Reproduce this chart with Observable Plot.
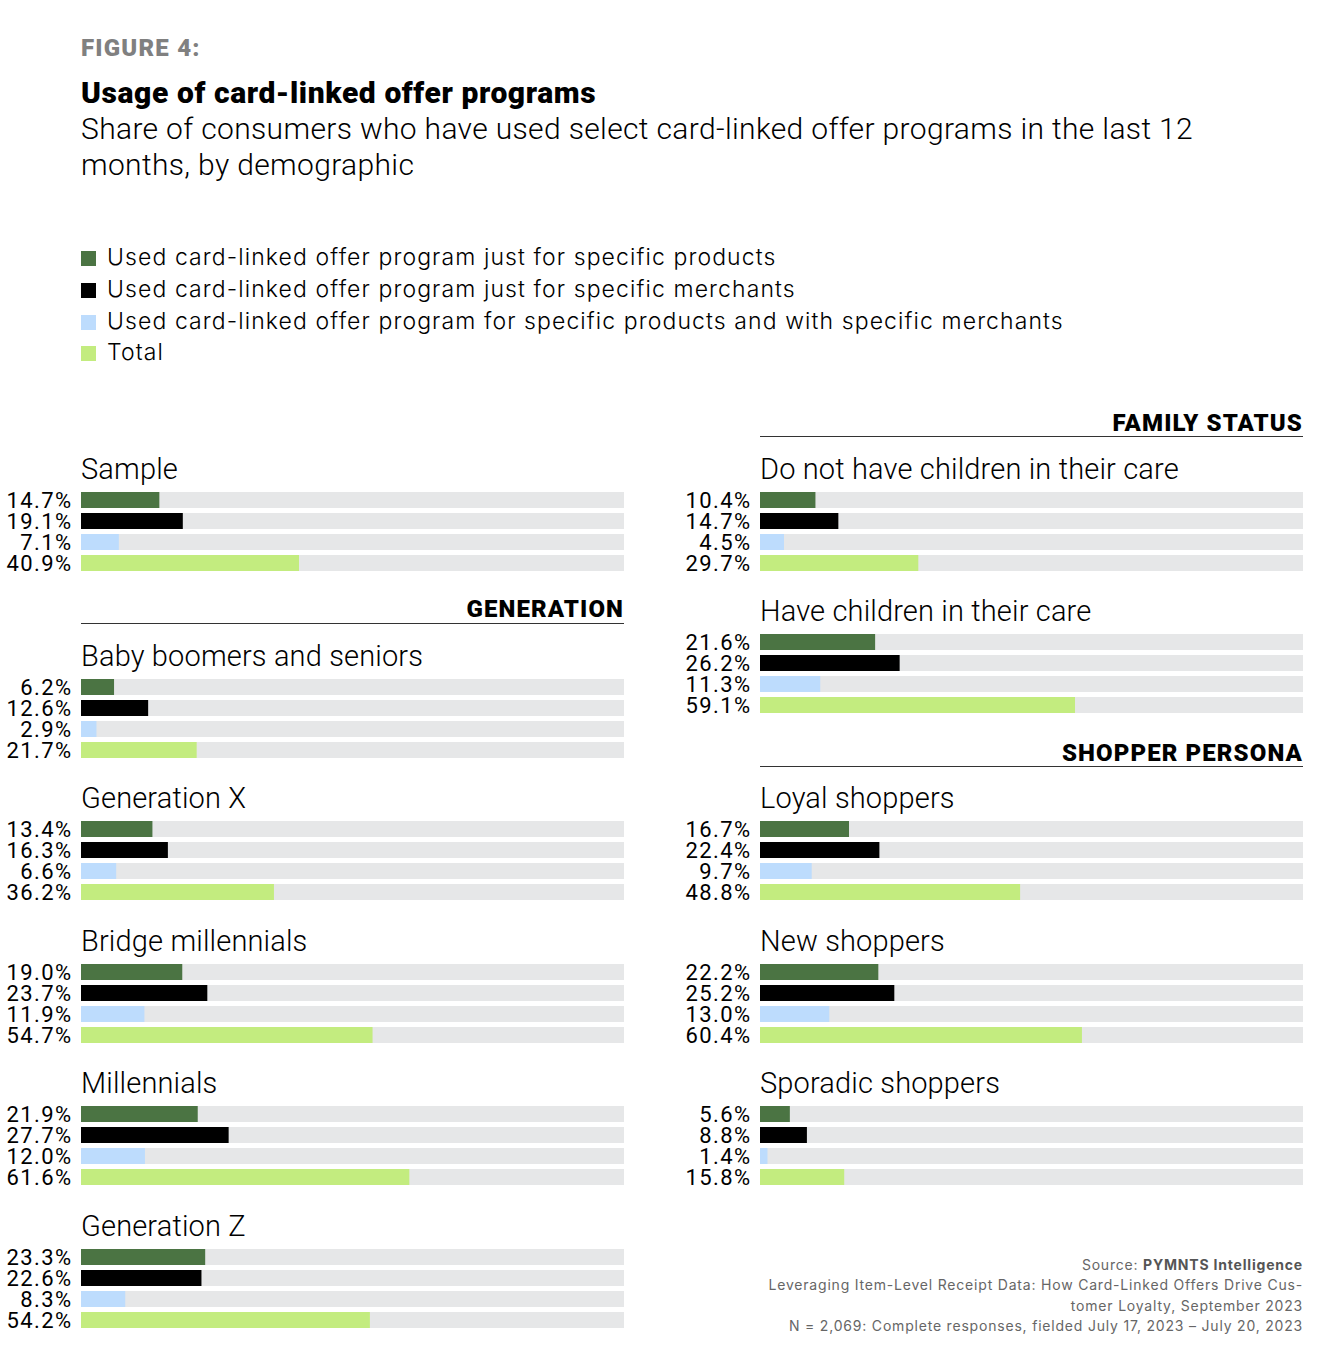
<!DOCTYPE html>
<html><head><meta charset="utf-8">
<script src="https://cdn.jsdelivr.net/npm/d3@7"></script>
<script src="https://cdn.jsdelivr.net/npm/@observablehq/plot@0.6"></script>
<style>
body{margin:0;background:#fff;}
#root{position:relative;width:1328px;height:1362px;overflow:hidden;font-family:Roboto, sans-serif;color:#000;}
.abs{position:absolute;white-space:nowrap;line-height:1;}
.fig{font-weight:900;font-size:24px;color:#808080;letter-spacing:1.2px;}
.title{font-weight:900;font-size:30px;letter-spacing:0.6px;}
.sub{font-weight:300;font-size:30px;letter-spacing:0.35px;}
.leg{font-family:Inter, sans-serif;font-weight:300;font-size:23px;letter-spacing:1.1px;}
.sw{position:absolute;width:15px;height:15px;}
.ptitle{font-weight:300;font-size:29px;letter-spacing:0.15px;}
.head{font-weight:900;font-size:24px;letter-spacing:1.1px;text-align:right;}
.rule{position:absolute;height:0;border-top:1.5px solid #333;}
.foot{font-family:Inter, sans-serif;font-size:14px;color:#666;text-align:right;font-weight:400;letter-spacing:0.8px;}
.foot b{font-weight:700;color:#555;}
</style></head><body><div id="root"></div>
<script>
// ---- data ----
const seriesNames = [
  "Used card-linked offer program just for specific products",
  "Used card-linked offer program just for specific merchants",
  "Used card-linked offer program for specific products and with specific merchants",
  "Total"
];
const seriesColors = ["#4b7443", "#000000", "#bddcfd", "#c3ec7f"];

const sample = [14.7, 19.1, 7.1, 40.9];
const babyBoomers = [6.2, 12.6, 2.9, 21.7];
const generationX = [13.4, 16.3, 6.6, 36.2];
const bridgeMillennials = [19.0, 23.7, 11.9, 54.7];
const millennials = [21.9, 27.7, 12.0, 61.6];
const generationZ = [23.3, 22.6, 8.3, 54.2];
const noChildren = [10.4, 14.7, 4.5, 29.7];
const haveChildren = [21.6, 26.2, 11.3, 59.1];
const loyalShoppers = [16.7, 22.4, 9.7, 48.8];
const newShoppers = [22.2, 25.2, 13.0, 60.4];
const sporadicShoppers = [5.6, 8.8, 1.4, 15.8];

const groupNames = ["Sample", "Baby boomers and seniors", "Generation X", "Bridge millennials",
  "Millennials", "Generation Z", "Do not have children in their care", "Have children in their care",
  "Loyal shoppers", "New shoppers", "Sporadic shoppers"];
const groupValues = [sample, babyBoomers, generationX, bridgeMillennials, millennials, generationZ,
  noChildren, haveChildren, loyalShoppers, newShoppers, sporadicShoppers];

// ---- layout (page positions of panels) ----
const panelCol = [0, 0, 0, 0, 0, 0, 1, 1, 1, 1, 1];
const panelBarTop = [491, 678, 820, 963, 1105, 1248, 491, 633, 820, 963, 1105];
const colLeft = [0, 679];

const root = document.getElementById("root");
function add(cls, text, style) {
  const d = document.createElement("div");
  d.className = cls;
  d.innerHTML = text;
  Object.assign(d.style, style);
  root.appendChild(d);
  return d;
}

add("abs fig", "FIGURE 4:", {left: "81px", top: "36px"});
add("abs title", "Usage of card-linked offer programs", {left: "81px", top: "78px"});
add("abs sub", "Share of consumers who have used select card-linked offer programs in the last 12", {left: "81px", top: "114px"});
add("abs sub", "months, by demographic", {left: "81px", top: "150px"});

const legendY = [258, 290, 322, 353];
seriesNames.forEach((n, i) => {
  add("sw", "", {left: "81px", top: (legendY[i] - 7.5) + "px", background: seriesColors[i]});
  add("abs leg", n, {left: "107px", top: (legendY[i] - 12) + "px"});
});

// section headers
const heads = [["GENERATION", 0, 609, 623], ["FAMILY STATUS", 1, 423, 436], ["SHOPPER PERSONA", 1, 753, 766]];
heads.forEach(([t, c, y, ly]) => {
  const left = c === 0 ? 81 : 760;
  add("abs head", t, {left: left + "px", width: "543px", top: (y - 12) + "px"});
  add("rule", "", {left: left + "px", width: "543px", top: ly + "px"});
});

function panel(vals) {
  const rows = vals.map((v, i) => ({i, v, label: v.toFixed(1) + "%", color: seriesColors[i]}));
  return Plot.plot({
    width: 640, height: 87,
    marginLeft: 81, marginRight: 26, marginTop: 0, marginBottom: 0,
    style: {fontFamily: "Roboto, sans-serif", background: "transparent", overflow: "visible", letterSpacing: "1.4px"},
    x: {domain: [0, 100], axis: null},
    y: {domain: [0, 1, 2, 3], axis: null, paddingInner: 0.26, paddingOuter: 0.13},
    color: {type: "identity"},
    marks: [
      Plot.barX(rows, {x1: 0, x2: 100, y: "i", fill: "#e6e7e8", insetRight: -10}),
      Plot.barX(rows, {x1: 0, x2: "v", y: "i", fill: "color"}),
      Plot.text(rows, {x: 0, y: "i", text: "label", textAnchor: "end", dx: -9, fontSize: 22, fill: "#000"})
    ]
  });
}

groupNames.forEach((name, g) => {
  const c = panelCol[g];
  const top = panelBarTop[g];
  add("abs ptitle", name, {left: (colLeft[c] + 81) + "px", top: (top - 22 - 14) + "px"});
  const svg = panel(groupValues[g]);
  const wrap = document.createElement("div");
  wrap.style.position = "absolute";
  wrap.style.left = colLeft[c] + "px";
  wrap.style.top = (top - 3) + "px";
  wrap.appendChild(svg);
  root.appendChild(wrap);
});

// footer
const footLines = ["Source: <b>PYMNTS Intelligence</b>",
  "Leveraging Item-Level Receipt Data: How Card-Linked Offers Drive Cus-",
  "tomer Loyalty, September 2023",
  "N = 2,069: Complete responses, fielded July 17, 2023 – July 20, 2023"];
const footY = [1265, 1285, 1306, 1326];
footLines.forEach((t, i) => {
  add("abs foot", t, {right: "25px", top: (footY[i] - 7) + "px"});
});
</script></body></html>
